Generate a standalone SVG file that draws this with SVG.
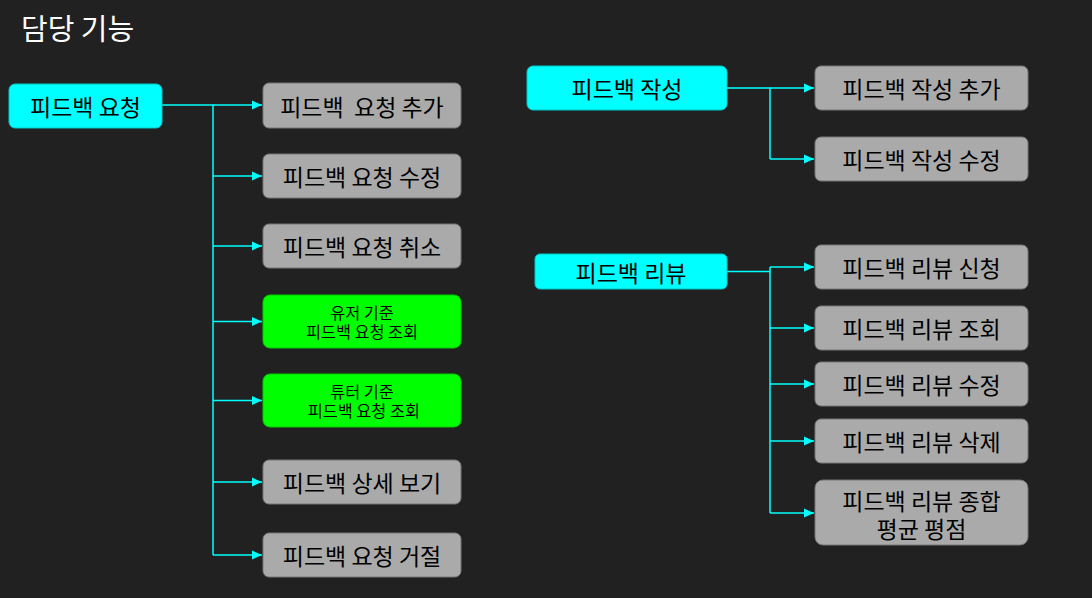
<svg xmlns="http://www.w3.org/2000/svg" width="1092" height="598" viewBox="0 0 1092 598">
<defs>
<marker id="arr" viewBox="0 0 10 10" refX="10" refY="5" markerWidth="10" markerHeight="10" markerUnits="userSpaceOnUse" orient="auto">
<path d="M0,0.5 L10,5 L0,9.5 Z" fill="#00FFFF"/>
</marker>
<style>
text{font-family:"Noto Sans CJK KR","Noto Sans",sans-serif;fill:#000;text-anchor:middle;dominant-baseline:central;white-space:pre}
.title{fill:#fff;font-size:29px;text-anchor:start}
.p rect{fill:#00FFFF;stroke:#00C8C8;stroke-width:1}
.c rect{fill:#AAAAAA;stroke:#777;stroke-width:1}
.g rect{fill:#00FF00;stroke:#00CC00;stroke-width:1}
.p text,.c text{font-size:23px}
.g text{font-size:16.3px}
#connectors path{fill:none;stroke:#00FFFF;stroke-width:1.5}
</style>
</defs>
<rect width="1092" height="598" fill="#212121"/>
<text class="title" x="21" y="27">담당 기능</text>

<g id="connectors">
<path d="M162,105 H213 V555"/>
<path d="M213,105 H262" marker-end="url(#arr)"/>
<path d="M213,176 H262" marker-end="url(#arr)"/>
<path d="M213,246 H262" marker-end="url(#arr)"/>
<path d="M213,321.5 H262" marker-end="url(#arr)"/>
<path d="M213,400.5 H262" marker-end="url(#arr)"/>
<path d="M213,482 H262" marker-end="url(#arr)"/>
<path d="M213,555 H262" marker-end="url(#arr)"/>
<path d="M727,88 H770 V159"/>
<path d="M770,88 H814" marker-end="url(#arr)"/>
<path d="M770,159 H814" marker-end="url(#arr)"/>
<path d="M727,271.5 H770"/>
<path d="M770,267 V513"/>
<path d="M770,267 H814" marker-end="url(#arr)"/>
<path d="M770,328 H814" marker-end="url(#arr)"/>
<path d="M770,384 H814" marker-end="url(#arr)"/>
<path d="M770,441 H814" marker-end="url(#arr)"/>
<path d="M770,513 H814" marker-end="url(#arr)"/>
</g>

<g id="n-req" class="p"><rect x="9" y="84" width="153" height="44" rx="6"/><text x="85.5" y="105.5">피드백 요청</text></g>
<g id="n-req-add" class="c"><rect x="263" y="83" width="198" height="45" rx="6"/><text x="362" y="105.5">피드백  요청 추가</text></g>
<g id="n-req-edit" class="c"><rect x="263" y="154" width="198" height="44" rx="6"/><text x="362" y="176">피드백 요청 수정</text></g>
<g id="n-req-cancel" class="c"><rect x="263" y="224" width="198" height="44" rx="6"/><text x="362" y="246">피드백 요청 취소</text></g>
<g id="n-req-user" class="g"><rect x="263" y="295" width="198" height="53" rx="7"/><text x="362" y="312">유저 기준</text><text x="362" y="331">피드백 요청 조회</text></g>
<g id="n-req-tutor" class="g"><rect x="263" y="374" width="198" height="53" rx="7"/><text x="362" y="391">튜터 기준</text><text x="362" y="410"> 피드백 요청 조회</text></g>
<g id="n-detail" class="c"><rect x="263" y="460" width="198" height="44" rx="6"/><text x="362" y="482">피드백 상세 보기</text></g>
<g id="n-reject" class="c"><rect x="263" y="533" width="198" height="44" rx="6"/><text x="362" y="555">피드백 요청 거절</text></g>

<g id="n-write" class="p"><rect x="527" y="66" width="200" height="44" rx="6"/><text x="627" y="88">피드백 작성</text></g>
<g id="n-write-add" class="c"><rect x="815" y="66" width="213" height="44" rx="6"/><text x="921.5" y="88">피드백 작성 추가</text></g>
<g id="n-write-edit" class="c"><rect x="815" y="137" width="213" height="44" rx="6"/><text x="921.5" y="159">피드백 작성 수정</text></g>

<g id="n-review" class="p"><rect x="535" y="254" width="192" height="35" rx="5"/><text x="631" y="271.5">피드백 리뷰</text></g>
<g id="n-review-apply" class="c"><rect x="815" y="245" width="213" height="44" rx="6"/><text x="921.5" y="267">피드백 리뷰 신청</text></g>
<g id="n-review-view" class="c"><rect x="815" y="306" width="213" height="44" rx="6"/><text x="921.5" y="328">피드백 리뷰 조회</text></g>
<g id="n-review-edit" class="c"><rect x="815" y="362" width="213" height="44" rx="6"/><text x="921.5" y="384">피드백 리뷰 수정</text></g>
<g id="n-review-del" class="c"><rect x="815" y="419" width="213" height="44" rx="6"/><text x="921.5" y="441">피드백 리뷰 삭제</text></g>
<g id="n-review-avg" class="c"><rect x="815" y="480" width="213" height="65" rx="8"/><text x="921.5" y="500">피드백 리뷰 종합</text><text x="921.5" y="528">평균 평점</text></g>
</svg>
